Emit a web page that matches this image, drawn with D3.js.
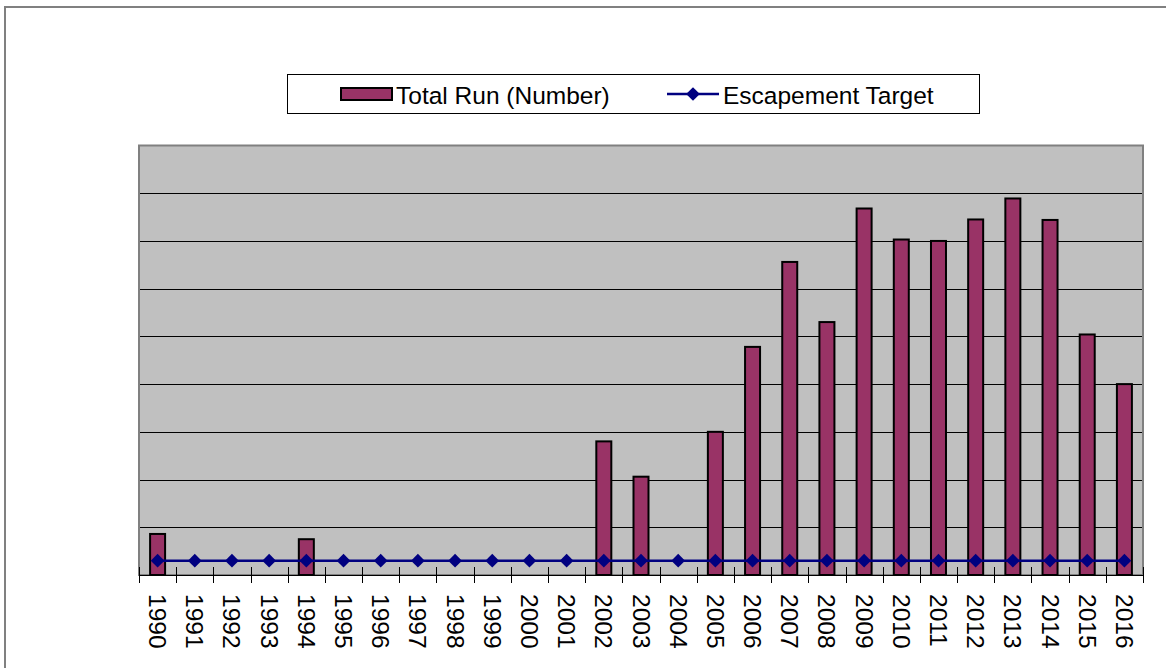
<!DOCTYPE html>
<html>
<head>
<meta charset="utf-8">
<script src="https://cdn.jsdelivr.net/npm/d3@7"></script>
<style>
  body { margin: 0; background: #fff; }
  text { font-family: "Liberation Sans", Arial, sans-serif; }
</style>
</head>
<body>
<div id="chart"></div>
<script>
// Years on the category axis
const years = d3.range(1990, 2017).map(String);
// Total run per year (no bar where null)
const totalRun = [860, null, null, null, 750, null, null, null, null, null, null, null,
  2800, 2060, null, 3000, 4780, 6560, 5300, 7680, 7030, 7000, 7450, 7890, 7440, 5040, 4000];
// Escapement target, same every year
const target = years.map(() => 300);
const seriesNames = ["Total Run (Number)", "Escapement Target"];
const yTicks = d3.range(0, 9001, 1000);

const W = 1166, H = 668;
const plot = { left: 139, right: 1143, top: 145.5, bottom: 575 };

const svg = d3.select("#chart").append("svg")
  .attr("width", W)
  .attr("height", H);

// Outer chart frame
svg.append("rect")
  .attr("x", 5).attr("y", 7)
  .attr("width", W + 20).attr("height", H + 20)
  .attr("fill", "#fff")
  .attr("stroke", "#808080")
  .attr("stroke-width", 2);

const x = d3.scaleBand()
  .domain(years)
  .range([plot.left, plot.right]);

const y = d3.scaleLinear()
  .domain([0, 9000])
  .range([plot.bottom, plot.top]);

// Plot background
svg.append("rect")
  .attr("x", plot.left).attr("y", plot.top)
  .attr("width", plot.right - plot.left)
  .attr("height", plot.bottom - plot.top)
  .attr("fill", "#c0c0c0");

// Gridlines
svg.append("g")
  .selectAll("line")
  .data(yTicks.slice(1, -1))
  .enter().append("line")
  .attr("x1", plot.left).attr("x2", plot.right)
  .attr("y1", d => Math.round(y(d)) + 0.5)
  .attr("y2", d => Math.round(y(d)) + 0.5)
  .attr("stroke", "#000")
  .attr("stroke-width", 1);

// Plot border
svg.append("rect")
  .attr("x", plot.left).attr("y", plot.top)
  .attr("width", plot.right - plot.left)
  .attr("height", plot.bottom - plot.top)
  .attr("fill", "none")
  .attr("stroke", "#808080")
  .attr("stroke-width", 2);

// Bars
const barW = 15;
svg.append("g")
  .selectAll("rect")
  .data(years.map((yr, i) => ({ yr, v: totalRun[i] })).filter(d => d.v != null))
  .enter().append("rect")
  .attr("x", d => x(d.yr) + x.bandwidth() / 2 - barW / 2)
  .attr("y", d => y(d.v))
  .attr("width", barW)
  .attr("height", d => y(0) - y(d.v))
  .attr("fill", "#993366")
  .attr("stroke", "#000")
  .attr("stroke-width", 2);

// Category axis
const xAxis = svg.append("g")
  .attr("transform", `translate(0,${plot.bottom})`)
  .call(d3.axisBottom(x).tickSize(0).tickFormat(""));
xAxis.select(".domain").attr("stroke", "#000").attr("stroke-width", 1.2);

svg.append("g")
  .selectAll("line")
  .data(years.concat(["end"]))
  .enter().append("line")
  .attr("x1", (d, i) => Math.round(plot.left + i * x.step()) + 0.5)
  .attr("x2", (d, i) => Math.round(plot.left + i * x.step()) + 0.5)
  .attr("y1", plot.bottom - 8)
  .attr("y2", plot.bottom + 8)
  .attr("stroke", "#000")
  .attr("stroke-width", 1);

svg.append("g")
  .selectAll("text")
  .data(years)
  .enter().append("text")
  .attr("transform", d => `translate(${x(d) + x.bandwidth() / 2},${plot.bottom + 19}) rotate(90)`)
  .attr("dominant-baseline", "central")
  .attr("font-size", 24.5)
  .attr("fill", "#000")
  .text(d => d);

// Target line with diamond markers
const line = d3.line()
  .x((d, i) => x(years[i]) + x.bandwidth() / 2)
  .y(d => y(d));

svg.append("path")
  .datum(target)
  .attr("d", line)
  .attr("fill", "none")
  .attr("stroke", "#000080")
  .attr("stroke-width", 2.5);

const diamond = d3.symbol().type(d3.symbolDiamond2).size(120);
svg.append("g")
  .selectAll("path")
  .data(target)
  .enter().append("path")
  .attr("transform", (d, i) => `translate(${x(years[i]) + x.bandwidth() / 2},${y(d)})`)
  .attr("d", diamond)
  .attr("fill", "#000080");

// Legend
const legend = svg.append("g");
legend.append("rect")
  .attr("x", 287.5).attr("y", 74.5)
  .attr("width", 692).attr("height", 39)
  .attr("fill", "#fff")
  .attr("stroke", "#000")
  .attr("stroke-width", 1);

legend.append("rect")
  .attr("x", 341).attr("y", 88)
  .attr("width", 51).attr("height", 12)
  .attr("fill", "#993366")
  .attr("stroke", "#000")
  .attr("stroke-width", 2);

legend.append("text")
  .attr("x", 396).attr("y", 95)
  .attr("dominant-baseline", "central")
  .attr("font-size", 24.5)
  .text(seriesNames[0]);

legend.append("line")
  .attr("x1", 667).attr("x2", 719)
  .attr("y1", 94).attr("y2", 94)
  .attr("stroke", "#000080")
  .attr("stroke-width", 2.5);

legend.append("path")
  .attr("transform", "translate(693,94)")
  .attr("d", diamond)
  .attr("fill", "#000080");

legend.append("text")
  .attr("x", 723).attr("y", 95)
  .attr("dominant-baseline", "central")
  .attr("font-size", 24.5)
  .text(seriesNames[1]);
</script>
</body>
</html>
